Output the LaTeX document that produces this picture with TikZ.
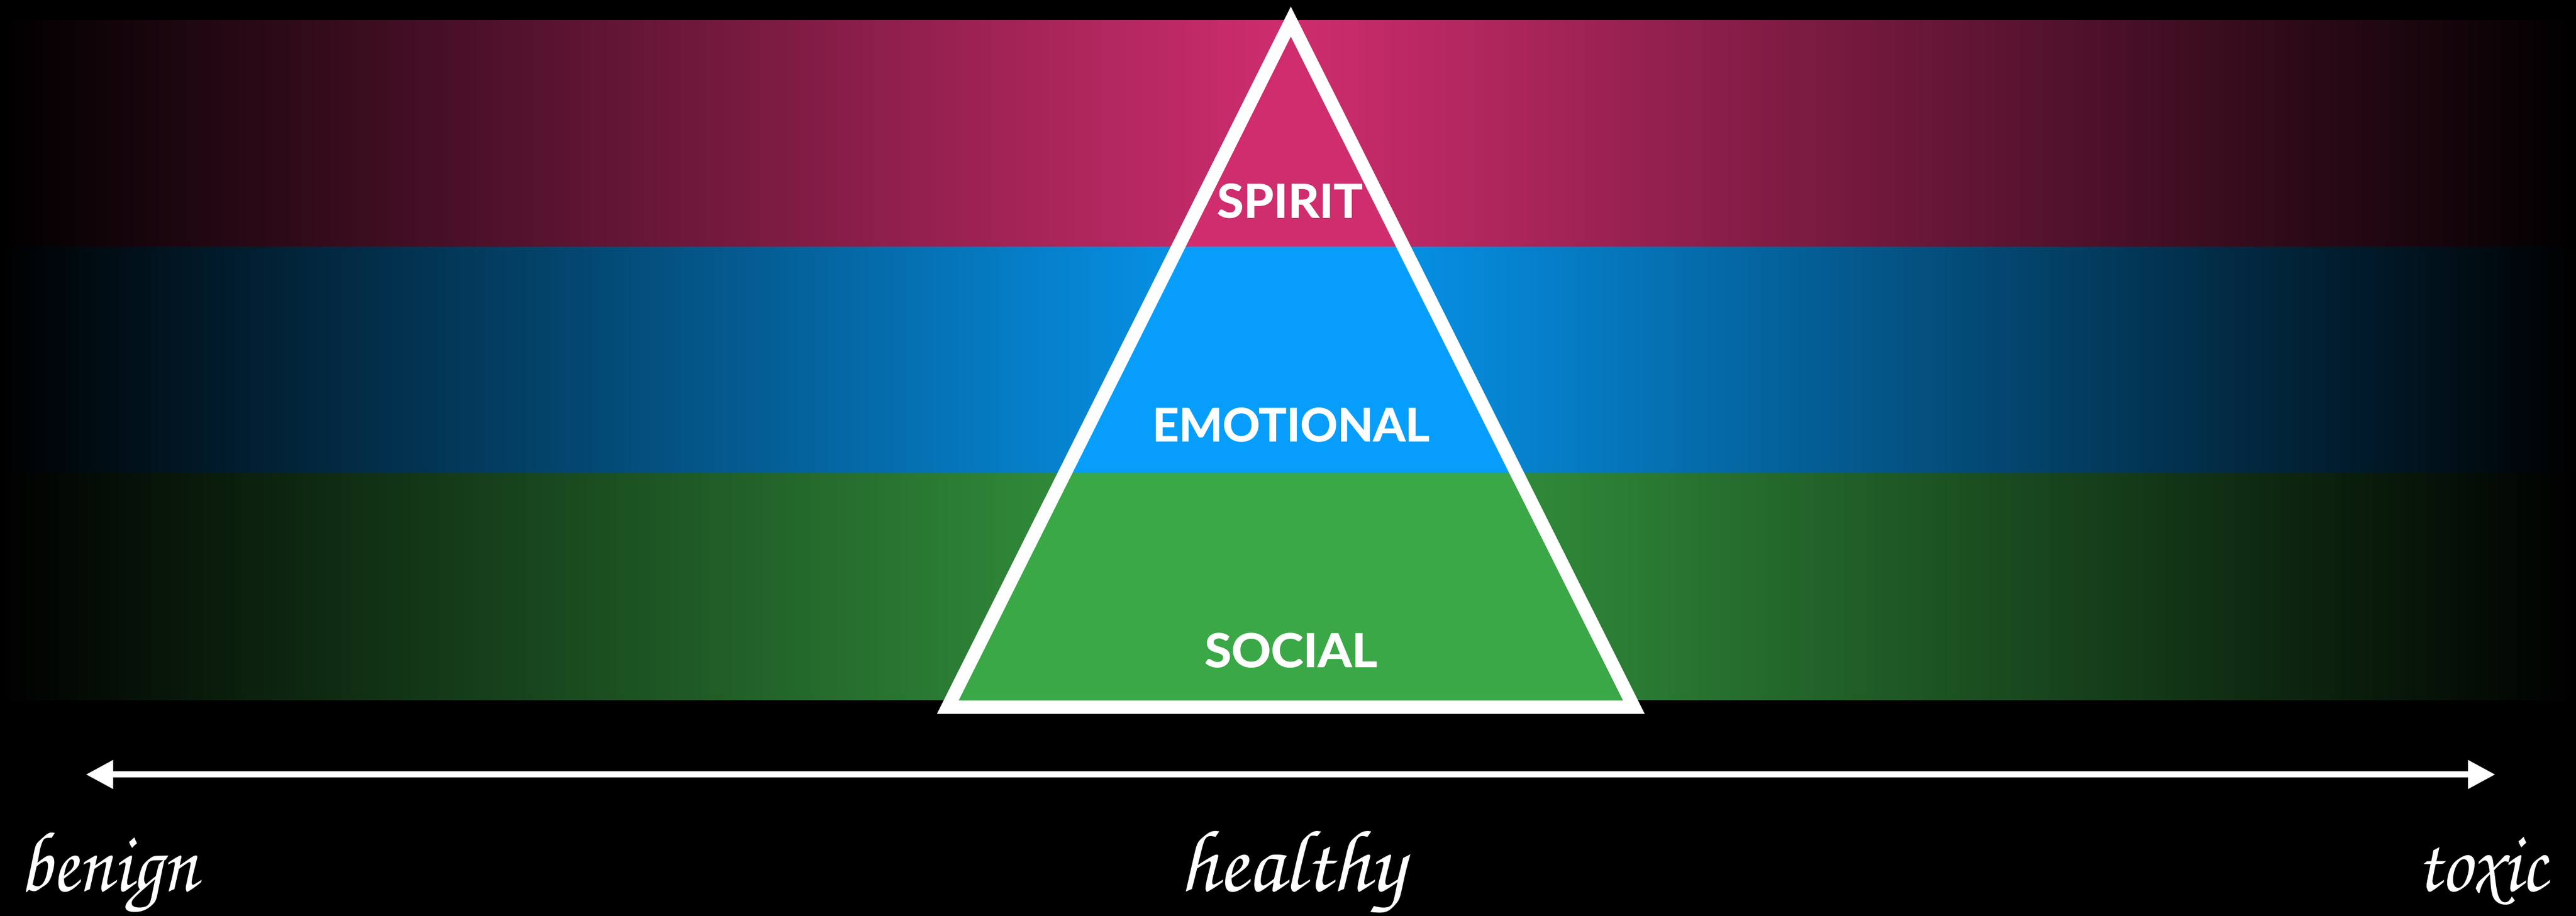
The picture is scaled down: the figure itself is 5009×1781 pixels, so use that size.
\documentclass[tikz,border=0pt]{standalone}
\usepackage{fontspec}
\usepackage{graphicx}
\usetikzlibrary{arrows.meta}
\newfontfamily\labelfont{Lato}[BoldFeatures={FakeBold=1.2}]
\newfontfamily\handfont{texgyrechorus-mediumitalic.otf}
\definecolor{spiritc}{RGB}{207,45,110}
\definecolor{emoc}{RGB}{7,158,251}
\definecolor{socc}{RGB}{58,168,70}
\tikzset{
  band/.style={left color=black,right color=black},
  lbl/.style={text=white,inner sep=0pt,font=\labelfont\bfseries},
  hand/.style={text=white,inner sep=0pt,font=\handfont},
  pyramid/.style={draw=white,line width=0.26cm,line join=miter},
  axisarrow/.style={draw=white,line width=0.12cm,{Triangle[length=0.53cm,width=0.53cm]}-{Triangle[length=0.53cm,width=0.53cm]}}
}
\begin{document}
\begin{tikzpicture}[x=0.01cm,y=-0.01cm]
\fill[black] (0,0) rectangle (5009,1781);
\useasboundingbox (0,0) rectangle (5009,1781);
% bands
\shade[band,middle color=spiritc] (0,40) rectangle (5009,480);
\shade[band,middle color=emoc] (0,480) rectangle (5009,920);
\shade[band,middle color=socc] (0,920) rectangle (5009,1361);
% pyramid
\coordinate (apex) at (2510,42);
\coordinate (bl) at (1843,1375);
\coordinate (br) at (3177,1375);
\begin{scope}
  \clip (apex) -- (bl) -- (br) -- cycle;
  \fill[spiritc] (1800,0) rectangle (3200,480);
  \fill[emoc] (1800,480) rectangle (3200,920);
  \fill[socc] (1800,920) rectangle (3200,1400);
\end{scope}
\draw[pyramid] (apex) -- (bl) -- (br) -- cycle;
% labels
\node[lbl,anchor=base] (spirit) at (2508,423) {\resizebox{2.83cm}{0.66cm}{SPIRIT}};
\node[lbl,anchor=base] (emotional) at (2510,858) {\resizebox{5.38cm}{0.65cm}{EMOTIONAL}};
\node[lbl,anchor=base] (social) at (2510,1297) {\resizebox{3.35cm}{0.66cm}{SOCIAL}};
% axis
\coordinate (axl) at (167,1506);
\coordinate (axr) at (4852,1506);
\draw[axisarrow] (axl) -- (axr);
\node[hand,anchor=base west] (benign) at (37,1733) {\resizebox{3.46cm}{1.13cm}{benign}};
\node[hand,anchor=base] (healthy) at (2512,1733) {\resizebox{4.37cm}{1.16cm}{healthy}};
\node[hand,anchor=base east] (toxic) at (4953,1733) {\resizebox{2.53cm}{1.05cm}{toxic}};
\end{tikzpicture}
\end{document}
